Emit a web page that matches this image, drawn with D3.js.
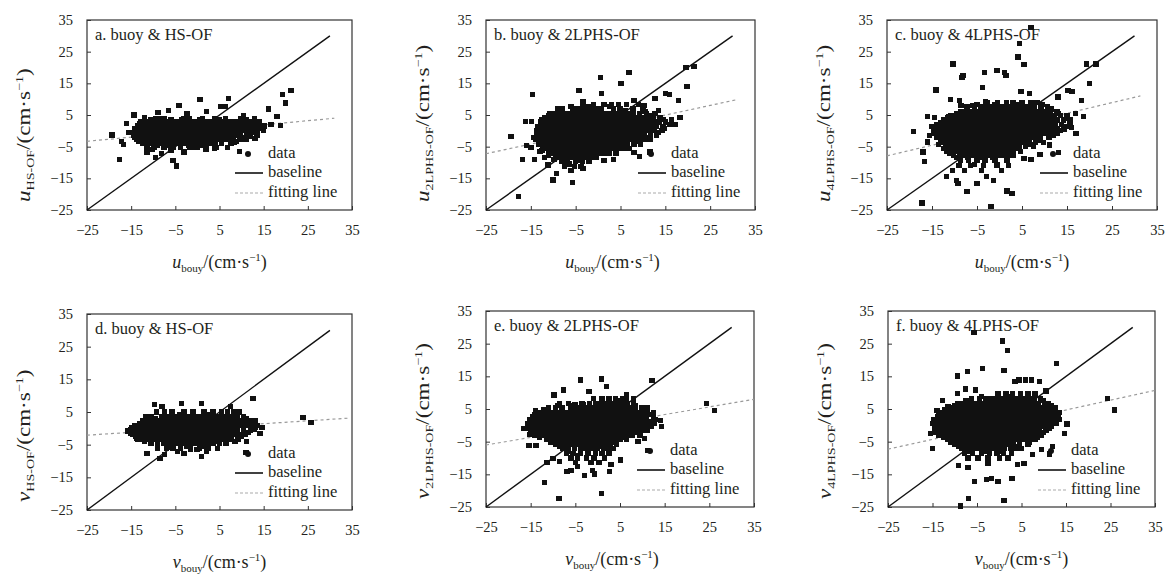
<!DOCTYPE html>
<html>
<head>
<meta charset="utf-8">
<script src="https://cdn.jsdelivr.net/npm/d3@7.9.0/dist/d3.min.js"></script>
<style>
  body { margin: 0; background: #fff; }
  svg text { font-family: "Liberation Serif", "Tinos", "Times New Roman", "Times", "DejaVu Serif", "Noto Serif", serif; fill: #231f20; }
</style>
</head>
<body>
<svg id="chart" width="1168" height="574"></svg>
<script>
// axis ticks, same for every panel
const tickVals = [-25, -15, -5, 5, 15, 25, 35];

// panel labels
const panelTitles = ["a. buoy & HS-OF", "b. buoy & 2LPHS-OF", "c. buoy & 4LPHS-OF",
                     "d. buoy & HS-OF", "e. buoy & 2LPHS-OF", "f. buoy & 4LPHS-OF"];
const compVar = ["u", "u", "u", "v", "v", "v"];
const ySub = ["HS-OF", "2LPHS-OF", "4LPHS-OF", "HS-OF", "2LPHS-OF", "4LPHS-OF"];

// baseline y = x ends at 30, fitting line y = slope*x + intercept
const baselineEnd = 30;
const fitSlope = [0.13, 0.305, 0.336, 0.088, 0.233, 0.30];
const fitIntercept = [-0.05, 0.4, 0.5, 0.1, -0.2, 0.2];
const fitXEnd = [31, 30.8, 31.3, 34, 35, 35];

// dense cores: each row is [y, x1, x2, ...]
const coreA = [
  [4.0, -9.5,-8.7,-7.6,-3.0,-1.9,1.1,3.8,6.4,9.8,12.9],
  [2.8, -12.9,-11.8,-10.6,-9.5,-8.4,-7.3,-6.2,-5.1,-4.0,-2.9,-1.8,-0.7,0.4,1.5,2.6,3.7,4.8,5.9,7.0,8.1,9.2,10.4,12.3,13.9],
  [1.5, -13.6,-12.5,-11.4,-10.3,-9.2,-8.1,-7.0,-5.9,-4.8,-3.7,-2.6,-1.5,-0.4,0.7,1.8,2.9,4.0,5.1,6.2,7.3,8.4,9.5,10.6,11.7,12.8,14.0,15.2],
  [0.1, -14.0,-12.9,-11.8,-10.7,-9.6,-8.5,-7.4,-6.3,-5.2,-4.1,-3.0,-1.9,-0.8,0.3,1.4,2.5,3.6,4.7,5.8,6.9,8.0,9.1,10.2,11.3,12.4,13.6,15.0],
  [-1.3, -14.4,-13.3,-12.2,-11.1,-10.0,-8.9,-7.8,-6.7,-5.6,-4.5,-3.4,-2.3,-1.2,-0.1,1.0,2.1,3.2,4.3,5.4,6.5,7.6,8.7,9.8,11.2,13.5],
  [-2.7, -13.8,-12.7,-11.6,-10.5,-9.4,-8.3,-7.2,-6.1,-5.0,-3.9,-2.8,-1.7,-0.6,0.5,1.6,2.7,3.8,4.9,6.0,7.1,8.2,9.6,11.0],
  [-4.0, -12.5,-11.4,-10.3,-9.2,-8.1,-7.0,-5.9,-4.8,-3.7,-2.6,-1.5,-0.4,0.7,1.8,2.9,4.0,5.4,7.6],
  [-5.2, -11.4,-9.8,-7.6,-5.4,-3.8,-1.7,0.0,1.9,4.2,6.8]
];
const outA = [[-17.6,-9.1],[-19.3,-1.3],[-17.2,-3.3],[-16.8,-4.4],[-16.1,2.2],[-14.4,5.0],[-15.5,-0.5],[-8.9,5.8],
  [-4.2,8.1],[0.6,9.8],[7.0,10.3],[5.3,7.6],[6.4,7.7],[-4.7,-11.1],[-5.5,-9.3],[-9.5,-8.5],[-11.4,-6.7],[-8.2,-7.2],
  [9.5,-6.5],[19.2,11.6],[21.2,12.8],[19.9,8.8],[16.1,6.9],[18.0,4.5],[18.8,1.7],[16.7,1.9],[-2.4,5.4],[1.9,-5.8],
  [3.9,-5.6],[8.3,-3.5],[-10.2,-5.8],[-3.0,-6.7],[-0.8,-5.1],[-6.5,6.3],[2.0,6.0],[10.5,4.8],[12.0,-1.8],[13.0,-2.5],
  [-12.0,4.2],[-6.0,-6.3]];
// ragged rim around the core
const haloA = [[-13.0,2.2],[-14.2,0.8],[-14.6,-0.6],[-14.3,-2.0],[-13.2,-3.4],[-11.5,-4.6],[-9.0,-4.6],[-6.5,-4.6],
  [-2.0,-4.6],[1.2,-4.6],[3.5,-3.4],[8.8,-3.4],[10.5,-2.0],[12.5,-0.6],[14.5,0.8],[13.0,2.2],[11.0,3.4],[-10.5,3.4],
  [-6.0,3.4],[-3.5,3.4],[0.5,3.4],[5.0,3.4]];

const coreB = [
  [8.4, -3.4,-1.0,1.3,3.0,4.6,6.3,9.0],
  [7.0, -9.0,-8.0,-5.6,-4.6,-3.6,-2.6,-1.6,-0.5,0.7,3.4,4.9,7.8,10.0],
  [5.6, -10.8,-9.7,-8.6,-7.5,-6.4,-5.3,-4.2,-3.1,-2.0,-0.9,0.2,1.3,2.4,3.5,4.6,5.7,6.8,7.9,9.3,10.8,12.7],
  [4.2, -12.0,-10.9,-9.8,-8.7,-7.6,-6.5,-5.4,-4.3,-3.2,-2.1,-1.0,0.1,1.2,2.3,3.4,4.5,5.6,6.7,7.8,8.9,10.0,11.1,12.3,13.8],
  [2.8, -12.8,-11.7,-10.6,-9.5,-8.4,-7.3,-6.2,-5.1,-4.0,-2.9,-1.8,-0.7,0.4,1.5,2.6,3.7,4.8,5.9,7.0,8.1,9.2,10.3,11.4,12.5,13.7,15.0],
  [1.4, -13.5,-12.4,-11.3,-10.2,-9.1,-8.0,-6.9,-5.8,-4.7,-3.6,-2.5,-1.4,-0.3,0.8,1.9,3.0,4.1,5.2,6.3,7.4,8.5,9.6,10.7,11.8,12.9,14.5],
  [0.0, -13.8,-12.7,-11.6,-10.5,-9.4,-8.3,-7.2,-6.1,-5.0,-3.9,-2.8,-1.7,-0.6,0.5,1.6,2.7,3.8,4.9,6.0,7.1,8.2,9.3,10.4,11.5,12.6,14.3],
  [-1.4, -13.8,-12.7,-11.6,-10.5,-9.4,-8.3,-7.2,-6.1,-5.0,-3.9,-2.8,-1.7,-0.6,0.5,1.6,2.7,3.8,4.9,6.0,7.1,8.2,9.3,10.4,11.7,13.0],
  [-2.8, -14.0,-12.9,-11.8,-10.7,-9.6,-8.5,-7.4,-6.3,-5.2,-4.1,-3.0,-1.9,-0.8,0.3,1.4,2.5,3.6,4.7,5.8,6.9,8.0,9.1,10.3,11.6],
  [-4.2, -13.2,-12.1,-11.0,-9.9,-8.8,-7.7,-6.6,-5.5,-4.4,-3.3,-2.2,-1.1,0.0,1.1,2.2,3.3,4.4,5.5,6.6,8.0,9.5],
  [-5.6, -12.3,-11.2,-10.1,-9.0,-7.9,-6.8,-5.7,-4.6,-3.5,-2.4,-1.3,-0.2,0.9,2.0,3.1,4.2,5.5,7.0],
  [-7.0, -11.0,-9.9,-8.8,-7.7,-6.6,-5.5,-4.4,-3.3,-2.2,-1.1,0.0,1.1,2.4,4.0],
  [-8.4, -9.5,-8.4,-7.3,-6.2,-5.1,-4.0,-2.9,-1.8,-0.5],
  [-9.8, -8.2,-6.8,-5.0,-3.5,-2.0],
  [-11.2, -7.5,-5.2,-3.8]
];
const outB = [[-17.7,-20.7],[-19.4,-1.7],[-14.6,11.4],[-16.2,3.0],[-14.9,3.0],[-10.1,-15.5],[-5.7,-16.3],[-9.3,-13.4],
  [-16.9,-9.1],[-14.2,-9.1],[-4.3,12.8],[0.5,16.8],[6.9,18.3],[5.1,15.0],[0.7,11.9],[-3.4,9.2],[19.6,20.1],[21.4,20.4],
  [19.8,14.0],[15.1,11.9],[15.9,11.4],[17.9,9.5],[18.3,4.1],[16.4,3.4],[17.2,1.9],[12.7,10.3],[9.3,-8.2],[11.6,-6.7],
  [3.4,-9.0],[1.3,-9.3],[-1.3,-6.1],[-3.4,-11.9],[-6.0,-12.4],[-7.8,-9.8],[-11.2,-10.8],[-12.0,-8.5],[-9.0,6.9],[-8.2,7.1],
  [-11.7,3.4],[-16.0,-4.6],[-15.0,-5.3],[8.0,9.5],[10.2,8.0],[13.5,6.3],[16.0,2.0],[6.0,-5.5],[8.0,-6.8],[-13.0,-6.5]];
const haloB = [[-12.5,-6.3],[-11.0,-7.8],[-9.8,-9.0],[-6.5,-10.5],[-4.3,-9.3],[-1.0,-8.0],[2.5,-6.5],[5.0,-4.9],
  [9.0,-3.4],[11.0,-2.1],[13.5,-0.6],[14.8,0.7],[14.5,3.5],[12.0,4.9],[10.5,6.2],[-11.0,4.9],[-12.5,3.5],[-13.0,-3.5],
  [-14.3,-2.0],[-6.0,7.6],[-2.0,7.7],[2.5,7.8],[6.0,6.3]];

const coreC = [
  [9.0, -2.8,-0.5,1.5,3.0,5.0,7.0,8.3],
  [7.6, -7.2,-5.5,-4.2,-3.0,-1.8,-0.6,0.6,1.8,3.0,4.2,5.4,6.6,7.8,9.2,10.6],
  [6.2, -8.7,-7.5,-6.4,-5.3,-4.2,-3.1,-2.0,-0.9,0.2,1.3,2.4,3.5,4.6,5.7,6.8,7.9,9.0,10.1,11.3,12.8],
  [4.8, -10.9,-9.8,-8.7,-7.6,-6.5,-5.4,-4.3,-3.2,-2.1,-1.0,0.1,1.2,2.3,3.4,4.5,5.6,6.7,7.8,8.9,10.0,11.1,12.2,13.5,15.0],
  [3.4, -12.4,-11.3,-10.2,-9.1,-8.0,-6.9,-5.8,-4.7,-3.6,-2.5,-1.4,-0.3,0.8,1.9,3.0,4.1,5.2,6.3,7.4,8.5,9.6,10.7,11.8,12.9,14.2,15.7],
  [2.0, -13.9,-12.8,-11.7,-10.6,-9.5,-8.4,-7.3,-6.2,-5.1,-4.0,-2.9,-1.8,-0.7,0.4,1.5,2.6,3.7,4.8,5.9,7.0,8.1,9.2,10.3,11.4,12.5,13.8,15.7],
  [0.6, -14.6,-13.5,-12.4,-11.3,-10.2,-9.1,-8.0,-6.9,-5.8,-4.7,-3.6,-2.5,-1.4,-0.3,0.8,1.9,3.0,4.1,5.2,6.3,7.4,8.5,9.6,10.7,11.8,12.9,14.3],
  [-0.8, -14.6,-13.5,-12.4,-11.3,-10.2,-9.1,-8.0,-6.9,-5.8,-4.7,-3.6,-2.5,-1.4,-0.3,0.8,1.9,3.0,4.1,5.2,6.3,7.4,8.5,9.6,10.7,11.8,12.8],
  [-2.2, -14.0,-12.9,-11.8,-10.7,-9.6,-8.5,-7.4,-6.3,-5.2,-4.1,-3.0,-1.9,-0.8,0.3,1.4,2.5,3.6,4.7,5.8,6.9,8.0,9.1,11.0],
  [-3.6, -13.1,-12.0,-10.9,-9.8,-8.7,-7.6,-6.5,-5.4,-4.3,-3.2,-2.1,-1.0,0.1,1.2,2.3,3.4,4.5,5.6,6.7,8.0,9.8],
  [-5.0, -12.0,-10.9,-9.8,-8.7,-7.6,-6.5,-5.4,-4.3,-3.2,-2.1,-1.0,0.1,1.2,2.3,3.4,4.5,5.8,7.6],
  [-6.4, -11.7,-10.4,-9.2,-8.1,-7.0,-5.9,-4.8,-3.7,-2.6,-1.5,-0.4,0.7,1.8,3.0,4.6],
  [-7.8, -10.2,-8.9,-7.7,-6.5,-5.3,-4.1,-2.9,-1.7,-0.5,0.8,1.9,3.1],
  [-9.2, -8.7,-6.9,-5.0,-3.2,-1.0,1.7],
  [-11.0, -9.0,-6.5,-3.5,-0.6,2.0],
  [-12.6, -10.5,-7.8,-4.0,0.5]
];
const outC = [[7.0,32.7],[4.5,27.5],[4.1,23.3],[5.4,20.9],[-10.3,21.1],[-8.1,17.5],[-8.3,16.8],[-3.4,18.3],[-0.6,19.1],
  [1.1,18.5],[1.4,17.6],[-3.8,13.6],[-14.1,12.9],[4.8,12.3],[6.7,11.8],[-10.9,9.8],[-8.9,9.5],[-8.6,8.1],[-5.9,8.1],
  [-3.1,9.2],[-16.0,4.5],[-14.4,4.1],[-19.1,-0.2],[-17.0,-6.7],[-16.7,-9.6],[-11.4,4.5],[19.3,21.1],[21.4,21.1],[20.0,15.0],
  [15.2,12.8],[16.1,12.3],[18.2,9.5],[18.7,4.5],[16.9,5.6],[13.0,10.7],[11.1,-4.5],[13.1,-6.9],[12.0,-1.5],[-11.8,-14.5],
  [-9.6,-15.8],[-9.2,-16.6],[-7.2,-19.2],[-5.0,-16.6],[-2.9,-14.5],[-1.3,-15.8],[1.7,-19.0],[2.8,-19.9],[-17.2,-22.8],
  [-1.9,-23.9],[-5.6,-10.6],[-0.6,-10.8],[5.4,-8.8],[-15.5,-1.5],[-16.0,-3.5],[9.0,-7.5],[7.0,-9.0],[16.0,1.0],[17.0,-0.8]];
const haloC = [[-13.5,-4.3],[-12.5,-5.7],[-11.0,-7.1],[-9.5,-8.5],[-7.0,-8.5],[-4.0,-8.3],[-1.5,-8.5],[2.0,-7.0],
  [4.0,-5.7],[7.0,-4.3],[9.0,-2.9],[11.5,-1.5],[13.5,0.0],[15.0,1.3],[15.0,4.0],[13.0,5.5],[11.5,6.9],[9.5,8.3],
  [-9.5,5.5],[-11.5,4.1],[-13.0,2.7],[-15.0,1.3],[-5.0,8.3],[-1.0,8.3],[4.0,8.3]];

const coreD = [
  [5.0, -9.3,-7.5,-5.8,-3.0,-1.0,1.5,3.5,5.5,6.8,8.3,9.5],
  [3.7, -10.5,-8.0,-6.8,-5.5,-4.3,-3.0,-1.8,-0.6,0.6,1.8,3.0,4.2,5.4,6.6,7.8,9.0,10.5],
  [2.3, -12.5,-11.4,-10.3,-9.2,-8.1,-7.0,-5.9,-4.8,-3.7,-2.6,-1.5,-0.4,0.7,1.8,2.9,4.0,5.1,6.2,7.3,8.4,9.5,10.6,11.9,13.2],
  [0.9, -14.2,-13.1,-12.0,-10.9,-9.8,-8.7,-7.6,-6.5,-5.4,-4.3,-3.2,-2.1,-1.0,0.1,1.2,2.3,3.4,4.5,5.6,6.7,7.8,8.9,10.0,11.1,12.2,13.5],
  [-0.5, -15.2,-14.1,-13.0,-11.9,-10.8,-9.7,-8.6,-7.5,-6.4,-5.3,-4.2,-3.1,-2.0,-0.9,0.2,1.3,2.4,3.5,4.6,5.7,6.8,7.9,9.0,10.5,12.0],
  [-1.9, -14.6,-13.5,-12.4,-11.3,-10.2,-9.1,-8.0,-6.9,-5.8,-4.7,-3.6,-2.5,-1.4,-0.3,0.8,1.9,3.0,4.1,5.2,6.3,7.4,8.5,9.6,10.8],
  [-3.3, -13.5,-12.4,-11.3,-10.2,-9.1,-8.0,-6.9,-5.8,-4.7,-3.6,-2.5,-1.4,-0.3,0.8,1.9,3.0,4.1,5.2,6.3,7.6,9.2],
  [-4.7, -10.5,-9.0,-7.7,-6.6,-5.5,-4.4,-3.3,-2.2,-1.1,0.0,1.1,2.2,3.5,5.0,6.5],
  [-6.1, -9.0,-7.0,-5.5,-3.8,-1.5,0.5,2.5,4.5]
];
const outD = [[12.6,9.2],[-3.6,7.7],[0.9,7.6],[-9.7,7.2],[-8.0,6.6],[7.5,6.7],[-11.6,3.5],[-5.8,5.1],[23.9,3.2],[25.7,1.8],
  [14.6,0.3],[14.2,-1.5],[11.1,-4.1],[11.0,-7.4],[-13.8,-3.1],[-15.2,-1.5],[-15.7,-0.8],[-11.4,-7.7],[-8.5,-9.2],[-3.0,-7.6],
  [0.9,-8.7],[-1.5,-6.3],[-0.1,-6.5],[-6.9,-5.8],[-4.5,-7.0],[2.0,-7.2],[-7.5,-8.0],[11.5,1.5],[12.8,-0.3]];
const haloD = [[-13.0,1.6],[-14.8,0.2],[-15.0,-1.2],[-14.0,-2.6],[-12.0,-4.0],[-9.0,-5.4],[-6.0,-5.4],[-2.5,-5.4],
  [1.5,-5.4],[4.5,-4.0],[8.5,-4.0],[10.0,-2.6],[11.5,-1.2],[13.0,0.2],[12.5,1.6],[11.0,3.0],[8.5,4.3],[-9.5,3.0],
  [-4.0,4.3],[2.5,4.3]];

const coreE = [
  [8.2, -1.0,1.0,2.5,4.0,5.5,6.5],
  [6.8, -8.5,-6.5,-3.5,-1.8,-0.5,0.7,1.9,3.1,4.3,5.5,6.7,8.0],
  [5.4, -11.0,-9.5,-8.0,-6.0,-4.8,-3.6,-2.4,-1.2,0.0,1.2,2.4,3.6,4.8,6.0,7.2,8.4,9.8,11.0],
  [4.0, -13.5,-12.3,-11.1,-9.9,-8.7,-7.6,-6.5,-5.4,-4.3,-3.2,-2.1,-1.0,0.1,1.2,2.3,3.4,4.5,5.6,6.7,7.8,8.9,10.0,11.2,12.5],
  [2.6, -14.5,-13.4,-12.3,-11.2,-10.1,-9.0,-7.9,-6.8,-5.7,-4.6,-3.5,-2.4,-1.3,-0.2,0.9,2.0,3.1,4.2,5.3,6.4,7.5,8.6,9.7,10.8,12.5],
  [1.2, -15.0,-13.9,-12.8,-11.7,-10.6,-9.5,-8.4,-7.3,-6.2,-5.1,-4.0,-2.9,-1.8,-0.7,0.4,1.5,2.6,3.7,4.8,5.9,7.0,8.1,9.2,10.3,11.4,12.5],
  [-0.2, -15.3,-14.2,-13.1,-12.0,-10.9,-9.8,-8.7,-7.6,-6.5,-5.4,-4.3,-3.2,-2.1,-1.0,0.1,1.2,2.3,3.4,4.5,5.6,6.7,7.8,8.9,10.0,11.1,12.0],
  [-1.6, -15.0,-13.9,-12.8,-11.7,-10.6,-9.5,-8.4,-7.3,-6.2,-5.1,-4.0,-2.9,-1.8,-0.7,0.4,1.5,2.6,3.7,4.8,5.9,7.0,8.1,9.2,10.3,11.0],
  [-3.0, -14.2,-13.1,-12.0,-10.9,-9.8,-8.7,-7.6,-6.5,-5.4,-4.3,-3.2,-2.1,-1.0,0.1,1.2,2.3,3.4,4.5,5.6,6.7,7.8,9.5],
  [-4.4, -11.5,-10.4,-9.3,-8.2,-7.1,-6.0,-4.9,-3.8,-2.7,-1.6,-0.5,0.6,1.7,2.8,3.9,5.0,6.5],
  [-5.8, -9.3,-8.2,-7.1,-6.0,-4.9,-3.8,-2.7,-1.6,-0.5,0.6,1.7,2.9,4.2],
  [-7.2, -7.8,-6.5,-5.2,-3.9,-2.6,-1.3,0.0,1.3,2.4,3.5],
  [-8.6, -7.0,-5.5,-3.8,-2.2,-0.5,1.0,2.5],
  [-10.0, -6.0,-4.5,-2.5,-0.8,1.5],
  [-11.4, -5.0,-1.5,0.3]
];
const outE = [[-3.9,13.9],[0.8,14.2],[12.2,13.7],[-7.6,10.8],[-9.8,9.3],[-1.9,10.3],[-5.1,6.2],[-3.3,6.4],[-13.9,4.5],
  [-11.5,3.7],[-15.3,-2.7],[-15.4,-6.2],[-13.8,-6.2],[-11.3,-11.4],[-11.9,-17.4],[-8.7,-22.3],[0.8,-20.8],[-2.9,-15.4],
  [-1.2,-13.9],[-0.7,-14.9],[2.7,-14.2],[-6.9,-14.2],[5.1,-10.6],[11.2,-7.6],[24.3,6.7],[26.1,4.5],[14.0,1.6],[14.3,-0.4],
  [8.0,8.3],[-6.0,-13.8],[-8.5,-11.0],[-10.0,-10.2],[9.0,-5.0],[10.5,-4.0],[-16.5,-1.0],[3.0,-12.0],[-4.5,-12.5],[6.5,9.5],[2.0,12.0]];
const haloE = [[-12.0,4.7],[-14.0,3.3],[-15.2,1.9],[-15.6,0.5],[-15.2,-0.9],[-14.8,-2.3],[-13.0,-3.7],[-10.5,-5.1],
  [-8.5,-6.5],[-6.5,-7.9],[-4.5,-9.3],[-2.0,-7.9],[0.5,-6.5],[3.0,-5.1],[5.8,-3.7],[8.5,-2.3],[10.5,-0.9],[12.6,0.5],
  [13.0,1.9],[11.5,3.3],[10.0,4.7],[8.5,6.1],[-9.0,6.1],[-5.5,6.1],[4.5,7.5]];

const coreF = [
  [9.6, -0.3,1.5,3.0,4.8,6.5,8.0],
  [8.2, -6.3,-4.5,-3.0,-1.7,-0.5,0.7,1.9,3.1,4.3,5.5,6.7,7.9,9.3],
  [6.8, -9.3,-8.0,-6.8,-5.6,-4.4,-3.2,-2.0,-0.8,0.4,1.6,2.8,4.0,5.2,6.4,7.6,8.8,10.2,11.0],
  [5.4, -11.5,-10.4,-9.3,-8.2,-7.1,-6.0,-4.9,-3.8,-2.7,-1.6,-0.5,0.6,1.7,2.8,3.9,5.0,6.1,7.2,8.3,9.4,10.5,11.6,12.5],
  [4.0, -13.0,-11.9,-10.8,-9.7,-8.6,-7.5,-6.4,-5.3,-4.2,-3.1,-2.0,-0.9,0.2,1.3,2.4,3.5,4.6,5.7,6.8,7.9,9.0,10.1,11.2,12.3,13.2],
  [2.6, -13.8,-12.7,-11.6,-10.5,-9.4,-8.3,-7.2,-6.1,-5.0,-3.9,-2.8,-1.7,-0.6,0.5,1.6,2.7,3.8,4.9,6.0,7.1,8.2,9.3,10.4,11.5,12.6,13.2],
  [1.2, -14.5,-13.4,-12.3,-11.2,-10.1,-9.0,-7.9,-6.8,-5.7,-4.6,-3.5,-2.4,-1.3,-0.2,0.9,2.0,3.1,4.2,5.3,6.4,7.5,8.6,9.7,10.8,11.9,12.5],
  [-0.2, -14.5,-13.4,-12.3,-11.2,-10.1,-9.0,-7.9,-6.8,-5.7,-4.6,-3.5,-2.4,-1.3,-0.2,0.9,2.0,3.1,4.2,5.3,6.4,7.5,8.6,9.7,10.8,11.7],
  [-1.6, -14.0,-12.9,-11.8,-10.7,-9.6,-8.5,-7.4,-6.3,-5.2,-4.1,-3.0,-1.9,-0.8,0.3,1.4,2.5,3.6,4.7,5.8,6.9,8.0,9.1,10.5],
  [-3.0, -13.5,-12.4,-11.3,-10.2,-9.1,-8.0,-6.9,-5.8,-4.7,-3.6,-2.5,-1.4,-0.3,0.8,1.9,3.0,4.1,5.2,6.3,7.4,8.5,9.5],
  [-4.4, -11.5,-10.4,-9.3,-8.2,-7.1,-6.0,-4.9,-3.8,-2.7,-1.6,-0.5,0.6,1.7,2.8,3.9,5.0,6.1,7.0,8.0],
  [-5.8, -10.0,-8.9,-7.8,-6.7,-5.6,-4.5,-3.4,-2.3,-1.2,-0.1,1.0,2.1,3.2,4.5,6.5],
  [-7.2, -8.5,-7.3,-6.1,-4.9,-3.7,-2.5,-1.3,-0.1,1.1,2.5,3.8,5.0],
  [-8.6, -7.8,-6.0,-4.0,-2.2,-0.5,1.0,2.7],
  [-10.0, -7.0,-4.8,-2.5,0.0,2.0]
];
const outF = [[-5.7,28.4],[0.7,25.8],[1.8,22.9],[12.8,19.0],[-3.7,17.4],[-7.2,16.4],[-9.4,15.1],[1.1,16.9],[4.4,13.9],
  [5.9,13.9],[7.2,13.9],[3.5,13.4],[9.1,13.4],[-5.3,10.8],[-7.6,11.1],[-9.4,9.8],[-11.5,5.7],[-12.1,2.9],[-15.4,-2.4],
  [-15.0,-7.0],[24.3,8.3],[25.9,4.7],[15.2,0.4],[14.6,-2.4],[11.9,-6.5],[11.3,-8.8],[-9.1,-12.3],[-7.0,-12.9],[-5.5,-17.2],
  [-6.9,-22.5],[-8.7,-24.7],[-2.9,-16.5],[-1.8,-16.2],[-0.3,-17.2],[1.1,-23.1],[2.9,-16.2],[5.6,-11.8],[4.1,-12.1],
  [-2.5,-11.8],[13.5,4.0],[12.5,2.5],[10.5,10.5],[-12.8,7.5],[-14.0,4.5],[7.5,-9.0],[9.5,-7.5]];
const haloF = [[-12.2,4.7],[-13.5,3.3],[-14.8,1.9],[-15.0,0.5],[-14.6,-0.9],[-14.2,-2.3],[-12.5,-3.7],[-10.8,-5.1],
  [-9.2,-6.5],[-7.0,-7.9],[-3.0,-7.9],[0.5,-7.9],[4.0,-6.5],[6.8,-5.1],[8.6,-3.7],[10.0,-2.3],[11.2,-0.9],[12.8,0.5],
  [13.6,1.9],[13.0,3.3],[12.0,4.7],[11.6,6.1],[-10.0,6.1],[-7.5,7.5],[10.0,7.5],[2.0,8.9],[-4.0,8.9]];

const coreRows = [coreA, coreB, coreC, coreD, coreE, coreF];
const outliers = [outA, outB, outC, outD, outE, outF];
const halos = [haloA, haloB, haloC, haloD, haloE, haloF];

// layout: frame boxes [x, y, w, h]
const boxes = [[87, 20, 265, 190], [486, 20, 269, 190], [887, 20, 270, 190],
               [87, 314, 265, 196], [486, 311, 268, 196], [888, 311, 267, 196]];
const xTitleShift = [0, -8, 0, 0, -8, 0];
const serif = '"Liberation Serif", "Tinos", "Times New Roman", "Times", "DejaVu Serif", "Noto Serif", serif';

const svg = d3.select('#chart').attr('font-family', serif);

// writes "u_sub/(cm·s^-1)" into a text element
function unitLabel(t, v, sub) {
  t.append('tspan').attr('font-style', 'italic').text(v);
  t.append('tspan').attr('font-size', 11).attr('dy', 4).text(sub);
  t.append('tspan').attr('dy', -4).text('/(cm·s');
  t.append('tspan').attr('font-size', 11).attr('dy', -7).text('\u22121');
  t.append('tspan').attr('dy', 7).text(')');
}

boxes.forEach((b, i) => {
  const [bx, by, bw, bh] = b;
  const x = d3.scaleLinear().domain([-25, 35]).range([bx, bx + bw]);
  const y = d3.scaleLinear().domain([-25, 35]).range([by + bh, by]);
  const g = svg.append('g');

  // axes with short inward ticks
  const xa = g.append('g')
    .attr('transform', `translate(0,${by + bh})`)
    .call(d3.axisBottom(x).tickValues(tickVals).tickSize(-4).tickPadding(14.5).tickFormat(d3.format('d')));
  const ya = g.append('g')
    .attr('transform', `translate(${bx},0)`)
    .call(d3.axisLeft(y).tickValues(tickVals).tickSize(-4).tickPadding(14).tickFormat(d3.format('d')));
  [xa, ya].forEach(a => {
    a.select('.domain').remove();
    a.attr('font-size', null).attr('font-family', serif);
    a.selectAll('line').attr('stroke', '#333');
    a.selectAll('text').attr('font-size', 14.5).attr('fill', '#231f20');
  });

  // frame
  g.append('rect')
    .attr('x', bx).attr('y', by).attr('width', bw).attr('height', bh)
    .attr('fill', 'none').attr('stroke', '#333').attr('stroke-width', 1.2);

  // panel title
  g.append('text').attr('x', bx + 8).attr('y', by + 20).attr('font-size', 16.5).text(panelTitles[i]);

  // baseline and fitting line
  g.append('line')
    .attr('x1', x(-25)).attr('y1', y(-25)).attr('x2', x(baselineEnd)).attr('y2', y(baselineEnd))
    .attr('stroke', '#111').attr('stroke-width', 1.4);
  const fit = v => fitSlope[i] * v + fitIntercept[i];
  g.append('line')
    .attr('x1', x(-25)).attr('y1', y(fit(-25))).attr('x2', x(fitXEnd[i])).attr('y2', y(fit(fitXEnd[i])))
    .attr('stroke', '#999').attr('stroke-width', 1.2).attr('stroke-dasharray', '3,3');

  // data points (crisp edges so the dense core closes up without seams)
  const pts = coreRows[i].flatMap(r => r.slice(1).map(v => [v, r[0]])).concat(halos[i], outliers[i]);
  g.append('g').attr('shape-rendering', 'crispEdges')
    .selectAll('rect').data(pts).join('rect')
    .attr('x', d => x(d[0]) - 2.7).attr('y', d => y(d[1]) - 2.6)
    .attr('width', 5.4).attr('height', 5.2)
    .attr('fill', '#111');

  // legend
  const lx = bx + bw, ly = by + bh;
  g.append('circle').attr('cx', lx - 104).attr('cy', ly - 56).attr('r', 3).attr('fill', '#111');
  g.append('line').attr('x1', lx - 117).attr('x2', lx - 89).attr('y1', ly - 37).attr('y2', ly - 37)
    .attr('stroke', '#111').attr('stroke-width', 1.6);
  g.append('line').attr('x1', lx - 117).attr('x2', lx - 89).attr('y1', ly - 17).attr('y2', ly - 17)
    .attr('stroke', '#aaa').attr('stroke-width', 1.2).attr('stroke-dasharray', '3,2');
  [['data', 52], ['baseline', 33], ['fitting line', 13]].forEach(([s, off]) => {
    g.append('text').attr('x', lx - 84).attr('y', ly - off).attr('font-size', 16.5).text(s);
  });

  // axis titles (the y title is stretched along its length, as in the original figure)
  const xt = g.append('text').attr('x', bx + bw / 2 + xTitleShift[i]).attr('y', by + bh + 58)
    .attr('text-anchor', 'middle').attr('font-size', 18);
  unitLabel(xt, compVar[i], 'bouy');
  const yt = g.append('text')
    .attr('transform', `translate(${bx - 57},${by + bh - 8}) rotate(-90) scale(1.28,1)`)
    .attr('font-size', 18);
  unitLabel(yt, compVar[i], ySub[i]);
});
</script>
</body>
</html>
